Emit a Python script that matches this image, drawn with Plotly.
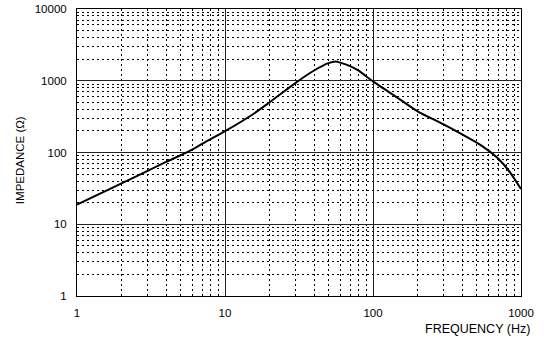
import plotly.graph_objects as go

freq_hz = [1, 2, 3, 4, 5.69, 7, 10, 15, 20, 30, 40, 50, 56, 60, 70, 80, 100, 150, 200, 300, 400, 528, 600, 703, 843, 1000]
impedance_ohm = [18.8, 37.1, 55.4, 73.8, 104, 132, 198, 328, 500, 935, 1390, 1758, 1850, 1790, 1600, 1380, 980, 560, 375, 246, 179, 129, 107, 82, 53, 31]

x_ticks = [1, 10, 100, 1000]
x_ticktext = ["1", "10", "100", "1000"]
y_ticks = [1, 10, 100, 1000, 10000]
y_ticktext = ["1", "10", "100", "1000", "10000"]

font_family = "Liberation Sans, Arial, Helvetica, sans-serif"

fig = go.Figure()
fig.add_trace(go.Scatter(
    x=freq_hz, y=impedance_ohm, mode="lines",
    line=dict(color="black", width=2, shape="spline", smoothing=0.6),
    showlegend=False, hoverinfo="skip",
))

axis_common = dict(
    type="log", automargin=False,
    showline=True, mirror=True, linecolor="black", linewidth=1,
    showgrid=True, gridcolor="#222222", gridwidth=1,
    zeroline=False, ticks="", ticklabeloverflow="allow",
    tickfont=dict(family=font_family, size=11.5, color="black"),
    minor=dict(dtick="D1", showgrid=True, gridcolor="black", gridwidth=1,
               griddash="2px,3px", ticks=""),
)

fig.update_xaxes(range=[0, 3], tickvals=x_ticks, ticktext=x_ticktext,
                 ticklabelstandoff=6, **axis_common)
fig.update_yaxes(range=[0, 4], tickvals=y_ticks, ticktext=y_ticktext,
                 ticklabelstandoff=7, **axis_common)

fig.add_annotation(text="FREQUENCY (Hz)", xref="paper", yref="paper",
                   x=1.025, y=-0.115, xanchor="right", yanchor="middle",
                   showarrow=False,
                   font=dict(family=font_family, size=12.5, color="black"))
fig.add_annotation(text="IMPEDANCE (Ω)", xref="paper", yref="paper",
                   x=-0.128, y=0.474, xanchor="center", yanchor="middle",
                   textangle=-90, showarrow=False,
                   font=dict(family=font_family, size=11.5, color="black"))

fig.update_layout(
    width=550, height=341,
    margin=dict(l=77, r=29, t=9, b=45),
    paper_bgcolor="white", plot_bgcolor="white",
    font=dict(family=font_family, color="black"),
)

fig.write_html("out.html",
               config={"displayModeBar": False, "staticPlot": True},
               post_script="document.body.style.margin='0';document.body.style.overflow='hidden';")
